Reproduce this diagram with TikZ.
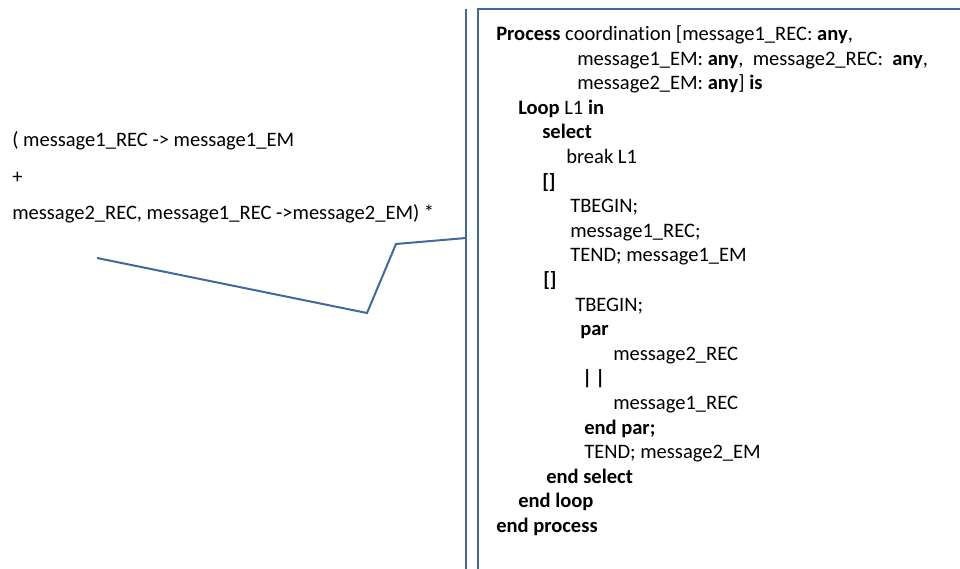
\documentclass[tikz,border=0pt]{standalone}
\usepackage{fontspec}
\setmainfont[Ligatures=NoCommon]{Carlito}
\usetikzlibrary{positioning}
\definecolor{boxblue}{RGB}{65,105,155}

\begin{document}
\begin{tikzpicture}[x=0.75pt,y=-0.75pt,
   codeline/.style={anchor=base west,inner sep=0pt,font=\fontsize{15.4}{18}\selectfont},
   frame/.style={draw=boxblue,line width=1.5pt}]
   \useasboundingbox (0,0) rectangle (960,568);
   \clip (0,0) rectangle (960,568);
   % regular expression
   \node[codeline] (expr1) at (12,146) {( message1\_REC -> message1\_EM};
   \node[codeline] (expr2) at (12,183) {+};
   \node[codeline] (expr3) at (12,219) {message2\_REC, message1\_REC ->message2\_EM) *};
   % process text
   \node[codeline] (proc)    at (496,40)  {\textbf{Process} coordination [message1\_REC: \textbf{any},};
   \node[codeline] (args1)   at (577,65)  {message1\_EM: \textbf{any},\ \ message2\_REC:\ \ \textbf{any},};
   \node[codeline] (args2)   at (577,89)  {message2\_EM: \textbf{any}] \textbf{is}};
   \node[codeline] (loop)    at (518,114) {\textbf{Loop} L1 \textbf{in}};
   \node[codeline] (sel)     at (542,138) {\textbf{select}};
   \node[codeline] (brk)     at (566,163) {break L1};
   \node[codeline] (alt1)    at (542,188) {\textbf{[]}};
   \node[codeline] (tb1)     at (570,212) {TBEGIN;};
   \node[codeline] (rec1)    at (570,237) {message1\_REC;};
   \node[codeline] (te1)     at (570,261) {TEND; message1\_EM};
   \node[codeline] (alt2)    at (543,286) {\textbf{[]}};
   \node[codeline] (tb2)     at (575,311) {TBEGIN;};
   \node[codeline] (par)     at (580,335) {\textbf{par}};
   \node[codeline] (rec2)    at (613,360) {message2\_REC};
   \node[codeline] (bar)     at (582,384) {\textbf{|\,|}};
   \node[codeline] (rec3)    at (613,409) {message1\_REC};
   \node[codeline] (endpar)  at (584,434) {\textbf{end par;}};
   \node[codeline] (te2)     at (584,458) {TEND; message2\_EM};
   \node[codeline] (endsel)  at (546,483) {\textbf{end select}};
   \node[codeline] (endloop) at (518,507) {\textbf{end loop}};
   \node[codeline] (endproc) at (496,532) {\textbf{end process}};
   % frame and bracket
   \draw[frame] (478,9) rectangle (975,580);
   \coordinate (top) at (466,9);
   \coordinate (bottom) at (466,580);
   \draw[frame] (top) -- (bottom);
   % connector
   \coordinate (c0) at (97,258);
   \coordinate (c1) at (367,313);
   \coordinate (c2) at (396,244);
   \coordinate (c3) at (466,238);
   \draw[frame] (c0) -- (c1) -- (c2) -- (c3);
\end{tikzpicture}
\end{document}
